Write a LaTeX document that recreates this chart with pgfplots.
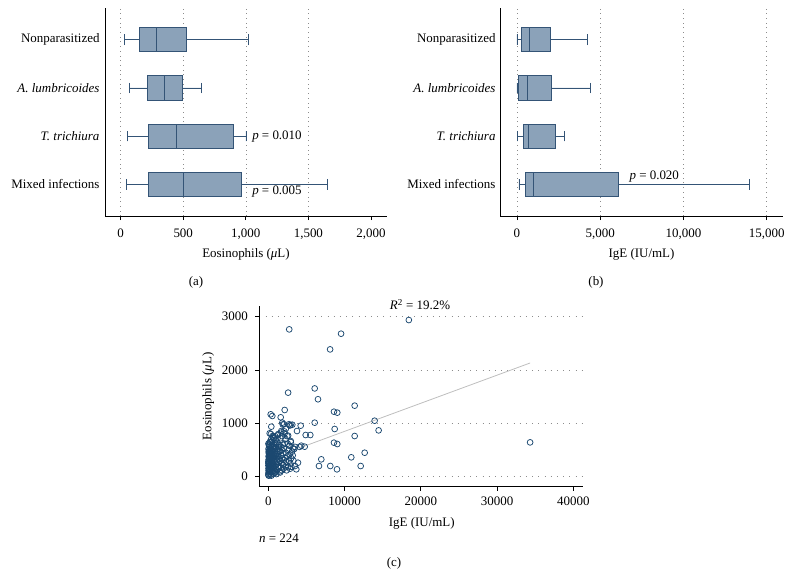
\documentclass[border=0pt]{standalone}
\usepackage{fontspec}
\setmainfont{Liberation Serif}
\usepackage{pgfplots}
\pgfplotsset{compat=1.18}
\usepgfplotslibrary{statistics}
\definecolor{boxfill}{RGB}{139,162,185}
\definecolor{boxedge}{RGB}{52,84,118}
\definecolor{mk}{RGB}{27,72,112}
\definecolor{gridc}{RGB}{140,140,140}
\definecolor{fitc}{RGB}{190,190,190}
\pgfplotsset{
  base/.style={scale only axis, axis lines*=left, tick align=outside,
    major tick length=4bp, axis line style={line width=0.9bp,black},
    tick style={line width=0.8bp,black},
    font=\fontsize{13}{15}\selectfont,
    tick label style={font=\fontsize{13}{15}\selectfont},
    /pgf/number format/assume math mode=true, scaled ticks=false, clip=false},
  catbox/.style={base, ytick={1,2,3,4},
    yticklabels={Mixed infections,\textit{T. trichiura},\textit{A. lumbricoides},Nonparasitized},
    ymin=0.34, ymax=4.66, y tick style={draw=none},
    xmajorgrids, major grid style={gridc, line width=0.6bp, dash pattern=on 0.7bp off 4bp},
    boxplot/box extend=0.5, boxplot/whisker extend=0.22,
    xticklabel style={yshift=-5bp},
    /pgf/number format/1000 sep={,}},
  bx/.style={fill=boxfill, draw=boxedge, line width=0.8bp, solid}
}
\begin{document}
\begin{tikzpicture}[font=\fontsize{13}{15}\selectfont]
\useasboundingbox (0,0) rectangle (792bp,-583bp);
% (a)
\begin{axis}[catbox, at={(105bp,-8bp)}, anchor=north west, width=282bp, height=208bp,
  xmin=-125, xmax=2128, xtick={0,500,1000,1500}, extra x ticks={2000}, extra x tick style={grid=none},
  yticklabel style={xshift=2bp},
  xlabel={Eosinophils (\textit{μ}L)}, xlabel style={at={(axis description cs:0.5,-0.186)}, anchor=center}]
\addplot[bx, boxplot prepared={lower whisker=27, lower quartile=152, median=288, upper quartile=522, upper whisker=1023, draw position=4}] coordinates {};
\addplot[bx, boxplot prepared={lower whisker=67, lower quartile=216, median=352, upper quartile=493, upper whisker=644, draw position=3}] coordinates {};
\addplot[bx, boxplot prepared={lower whisker=56, lower quartile=221, median=445, upper quartile=903, upper whisker=1001, draw position=2}] coordinates {};
\addplot[bx, boxplot prepared={lower whisker=45, lower quartile=221, median=503, upper quartile=961, upper whisker=1651, draw position=1}] coordinates {};
\node[anchor=west, inner sep=0] at (axis cs:1050,2) {\textit{p} = 0.010};
\node[anchor=west, inner sep=0] at (axis cs:1050,0.84) {\textit{p} = 0.005};
\end{axis}
% (b)
\begin{axis}[catbox, at={(500bp,-8bp)}, anchor=north west, width=283bp, height=208bp,
  xmin=-1020, xmax=15980, xtick={0,5000,10000,15000},
  yticklabel style={xshift=3bp},
  xlabel={IgE (IU/mL)}, xlabel style={at={(axis description cs:0.5,-0.186)}, anchor=center}]
\addplot[bx, boxplot prepared={lower whisker=0, lower quartile=260, median=740, upper quartile=2024, upper whisker=4250, draw position=4}] coordinates {};
\addplot[bx, boxplot prepared={lower whisker=0, lower quartile=110, median=620, upper quartile=2084, upper whisker=4410, draw position=3}] coordinates {};
\addplot[bx, boxplot prepared={lower whisker=20, lower quartile=360, median=700, upper quartile=2285, upper whisker=2826, draw position=2}] coordinates {};
\addplot[bx, boxplot prepared={lower whisker=120, lower quartile=520, median=980, upper quartile=6112, upper whisker=13990, draw position=1}] coordinates {};
\node[anchor=west, inner sep=0] at (axis cs:6750,1.16) {\textit{p} = 0.020};
\end{axis}
% (c)
\begin{axis}[base, at={(259.3bp,-486.7bp)}, anchor=south west, width=323.7bp, height=180.7bp,
  xmin=-1180, xmax=41270, ymin=-187, ymax=3200,
  xtick={0,10000,20000,30000,40000}, ytick={0,1000,2000,3000},
  /pgf/number format/1000 sep={},
  ymajorgrids, major grid style={gridc, line width=0.6bp, dash pattern=on 0.7bp off 5.5bp},
  xticklabel style={yshift=-3bp}, yticklabel style={xshift=-4bp},
  xlabel={IgE (IU/mL)}, xlabel style={at={(axis description cs:0.502,-0.2025)}, anchor=center},
  ylabel={Eosinophils (\textit{μ}L)}, ylabel style={at={(axis description cs:-0.158,0.5)}, anchor=center, rotate=0}]
\addplot[fitc, line width=0.8bp] coordinates {(4300,550) (34333,2132)};
\addplot[only marks, mark=o, mark size=2.9bp, mk, mark options={line width=0.75bp}] coordinates {
(18430,2937)(2745,2762)(9542,2681)(8104,2387)(6083,1655)(2600,1576)(6516,1452)(11327,1332)
(8613,1219)(9046,1201)(2150,1251)(315,1170)(524,1139)(1626,1114)(13942,1050)(14465,869)
(6083,1013)(1835,1013)(2058,983)(2714,983)(2937,970)(3146,975)(4248,957)(393,938)
(8705,895)(3763,857)(1704,857)(2150,814)(184,814)(616,750)(1272,782)(4903,782)
(5506,782)(11327,763)(2937,670)(8613,638)(9046,613)(4326,582)(4772,563)(3238,533)
(12638,450)(10881,364)(6948,326)(3894,263)(6647,201)(8128,201)(9007,139)(12113,201)
(3671,139)(3015,188)(34333,644)
(2480,760)(2820,960)(1900,980)(3500,560)(4100,560)(2300,900)
(20,30)(50,80)(80,120)(30,160)(120,200)(60,240)(150,280)(40,320)(100,360)(200,400)
(70,440)(180,480)(30,520)(140,560)(90,600)(250,640)(10,50)(110,100)(170,140)(220,180)
(15,210)(90,250)(260,300)(130,340)(50,380)(230,420)(110,460)(280,500)(60,20)(190,60)
(240,90)(35,120)(130,150)(280,220)(200,270)(20,290)(160,330)(270,370)(80,400)(210,450)
(45,470)(150,510)(230,550)(100,580)(20,620)(180,650)(10,260)(300,130)
(350,40)(420,90)(500,130)(380,170)(600,210)(450,250)(700,290)(550,330)(400,370)(650,410)
(750,450)(480,490)(320,530)(580,570)(700,610)(420,650)(360,700)(530,760)(680,60)(780,110)
(330,230)(470,310)(620,360)(760,200)(520,430)(390,480)(640,520)(780,560)(460,600)(560,680)
(720,720)(340,800)(600,100)(400,20)(500,180)(700,160)(580,260)(450,400)(350,440)
(850,70)(920,150)(1000,230)(1100,310)(1200,390)(1300,470)(1400,550)(880,630)(960,700)(1050,50)
(1150,120)(1250,190)(1350,260)(1450,330)(820,400)(900,480)(1000,560)(1100,640)(1200,720)(1300,800)
(1480,100)(830,280)(950,350)(1150,430)(1380,600)(1250,520)(1050,600)(870,540)(1420,180)(1020,420)
(1180,280)(980,90)(1320,380)(1460,470)(900,760)
(1550,80)(1650,170)(1750,260)(1850,350)(1950,440)(2050,530)(2150,620)(2250,710)(1600,300)(1700,400)
(1800,500)(1900,600)(2000,150)(2100,250)(2200,350)(2300,450)(2400,120)(1550,480)(1680,560)(2350,280)
(1600,720)(1720,830)(1820,760)(2100,850)(1950,220)(2450,380)(2280,180)(1780,120)(2050,320)
(2600,180)(2700,300)(2800,420)(2900,250)(3000,350)(2650,500)(2850,150)(3100,470)(3300,300)(3500,200)
(2550,620)(2750,580)(3200,400)(3400,520)(2950,650)(2600,770)
};
\node[anchor=center] at (axis cs:19900,3221) {\textit{R}\textsuperscript{2} = 19.2\%};
\end{axis}
\node at (196bp,-282bp) {(a)};
\node at (596bp,-282bp) {(b)};
\node at (394bp,-563bp) {(c)};
\node[anchor=west, inner sep=0] at (259bp,-538bp) {\textit{n} = 224};
\end{tikzpicture}
\end{document}
